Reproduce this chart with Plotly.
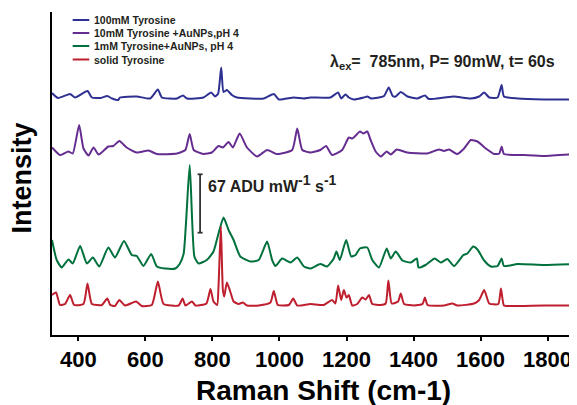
import plotly.graph_objects as go

# ---------------- data (Raman shift in cm-1, intensity in arbitrary offset units) -------------
blue_x = [321, 339, 375, 390, 427, 440, 465, 486, 500, 519, 524, 574, 614, 637, 649, 694, 712, 724, 773, 796,
          808, 817, 826, 833, 843, 858, 873, 953, 983, 998, 1043, 1072, 1092, 1152, 1175, 1184, 1197, 1207, 1222, 1252,
          1262, 1274, 1312, 1326, 1338, 1347, 1362, 1382, 1411, 1434, 1446, 1491, 1521, 1571, 1596, 1611, 1626, 1651, 1663, 1670,
          1711, 1790, 1888]
blue_y = [242, 237, 241, 237.5, 244, 237.5, 237, 239, 236.5, 235, 237.5, 238.5, 236.5, 245.5, 237.5, 236.5, 239.5, 236.5, 237.5, 242.5,
          238.5, 241.5, 267.5, 243, 245, 240, 237.5, 236.5, 241, 235.5, 237.5, 236.5, 237.5, 237.5, 242.5, 236.5, 240.5, 237.5, 235.5, 237.5,
          238.5, 236.5, 239, 247.5, 239, 238.5, 243, 238.5, 236.5, 239.5, 236, 237.5, 238.5, 236.5, 238.5, 242.5, 237.5, 237.5, 250, 238.5,
          236.5, 235.5, 235.5]

purple_x = [321, 345, 370, 383, 402, 415, 430, 445, 460, 489, 504, 522, 544, 574, 609, 634, 694, 719, 732, 744,
            773, 798, 818, 831, 848, 861, 881, 903, 933, 963, 993, 1038, 1053, 1068, 1092, 1122, 1139, 1157, 1187, 1207,
            1217, 1229, 1240, 1250, 1262, 1272, 1287, 1302, 1320, 1332, 1350, 1382, 1441, 1476, 1491, 1506, 1531, 1551, 1571, 1591,
            1616, 1641, 1656, 1663, 1670, 1730, 1790, 1888]
purple_y = [187.5, 180, 183.5, 181.5, 210, 186.5, 179.5, 187.5, 180.5, 188.5, 189, 194, 187.5, 182.5, 184.5, 181, 181.5, 185, 201, 185,
            181, 182.5, 189, 187.5, 193, 187.5, 201.5, 187.5, 178.5, 185, 181, 185, 206.5, 185, 182.5, 185, 189, 180, 185, 197.5,
            196.5, 200, 203.5, 201.5, 203.5, 195, 183.5, 178.5, 183.5, 180.5, 185.5, 182.5, 181.5, 185.5, 184, 185.5, 181, 186.5, 195, 193.5,
            186.5, 181, 181.5, 188.5, 181, 180, 179, 181]

green_x = [321, 335, 350, 370, 383, 405, 425, 443, 462, 489, 509, 536, 559, 574, 594, 617, 634, 659, 689, 702,
           714, 732, 746, 758, 783, 803, 818, 833, 848, 863, 883, 913, 938, 963, 978, 988, 1008, 1033, 1053, 1073,
           1092, 1122, 1142, 1162, 1170, 1180, 1199, 1214, 1227, 1240, 1262, 1277, 1297, 1320, 1332, 1347, 1367, 1392, 1410, 1415,
           1436, 1463, 1481, 1501, 1521, 1549, 1561, 1578, 1591, 1611, 1631, 1651, 1663, 1670, 1711, 1790, 1888]
green_y = [95, 75, 67.5, 75.5, 71.5, 89, 71.5, 77.5, 68.5, 87.5, 77.5, 94, 80, 79, 69, 81, 68.5, 66.5, 66.5, 71,
           81.5, 170, 78.5, 71.5, 75, 83.5, 101.5, 117.5, 105, 95, 78.5, 73.5, 75, 93.5, 75, 69, 76.5, 72.5, 77.5, 68.5,
           66.5, 71, 68.5, 76.5, 83.5, 75, 95, 78.5, 80, 86.5, 87.5, 75, 67.5, 86.5, 76.5, 83.5, 74.5, 72.5, 76.5, 67.5,
           70, 76.5, 72.5, 76, 69, 80, 81.5, 88.5, 85.5, 74.5, 68.5, 69, 76.5, 69, 71, 70, 71]

red_x = [321, 333, 345, 360, 375, 387, 415, 427, 440, 470, 486, 495, 509, 522, 539, 572, 589, 619, 637, 654,
         699, 711, 719, 739, 749, 782, 794, 803, 814, 818, 825, 831, 835, 843, 853, 863, 878, 891, 903, 938,
         973, 983, 995, 1028, 1041, 1053, 1092, 1132, 1157, 1167, 1175, 1184, 1192, 1200, 1207, 1217, 1232, 1247, 1257, 1267,
         1277, 1302, 1317, 1325, 1335, 1354, 1362, 1372, 1402, 1427, 1434, 1442, 1491, 1516, 1531, 1581, 1596, 1611, 1626, 1653,
         1661, 1670, 1690, 1790, 1888]
red_y = [40, 42.5, 30, 31, 40, 30, 31, 51.5, 31, 30, 36.5, 30, 29, 35, 29.5, 33.5, 29, 30, 53.5, 31,
         29.5, 36.5, 29.5, 33.5, 29.5, 31.5, 46, 33.5, 30, 48.5, 108.5, 45, 38.5, 52.5, 43.5, 33.5, 31, 32.5, 29.5, 29.5,
         32.5, 44, 30, 30, 36.5, 29.5, 31, 30, 35, 31.5, 49.5, 35, 45, 37.5, 40, 29.5, 31, 37.5, 35.5, 40,
         31, 30, 31.5, 54.5, 31.5, 33.5, 41.5, 31, 29.5, 31, 37.5, 30, 29.5, 31.5, 29.5, 31.5, 35, 45, 31.5, 31,
         46.5, 29.5, 29, 29.5, 29.5]

series_names = ["100mM Tyrosine", "10mM Tyrosine +AuNPs,pH 4", "1mM Tyrosine+AuNPs, pH 4", "solid Tyrosine"]
series_colors = ["#2E3192", "#662D91", "#00703C", "#BE1E2D"]
x_ticks = [400, 600, 800, 1000, 1200, 1400, 1600, 1800]
scale_bar_x = 763
scale_bar_y = [102.3, 160.7]

FONT = "Liberation Sans, Arial, Helvetica, sans-serif"
TXT = "#231F20"

fig = go.Figure()
for xs, ys, name, col in zip([blue_x, purple_x, green_x, red_x], [blue_y, purple_y, green_y, red_y],
                             series_names, series_colors):
    fig.add_trace(go.Scatter(x=xs, y=ys, mode="lines", name=name,
                             line=dict(color=col, width=2, shape="spline", smoothing=0.5),
                             showlegend=False))

# scale bar
fig.add_shape(type="line", x0=scale_bar_x, x1=scale_bar_x, y0=scale_bar_y[0], y1=scale_bar_y[1],
              line=dict(color="#333333", width=1.8))
for yy in scale_bar_y:
    fig.add_shape(type="line", x0=scale_bar_x - 7.5, x1=scale_bar_x + 7.5, y0=yy, y1=yy,
                  line=dict(color="#333333", width=1.8))

# manual legend
leg_py = [20, 33, 46, 59.5]
for name, col, py in zip(series_names, series_colors, leg_py):
    yp = (335 - py) / 323
    fig.add_shape(type="line", xref="paper", yref="paper", x0=0.0394, x1=0.071, y0=yp, y1=yp,
                  line=dict(color=col, width=2))
    fig.add_annotation(xref="paper", yref="paper", x=0.076, y=yp, xanchor="left", yanchor="middle",
                       text=name, showarrow=False,
                       font=dict(family=FONT, size=10.5, color=TXT, weight="bold"))

fig.add_annotation(xref="paper", yref="paper", x=0.5256, y=0.845, xanchor="left", yanchor="middle",
                   text="λ<sub>ex</sub>=  785nm, P= 90mW, t= 60s", showarrow=False,
                   font=dict(family=FONT, size=16, color=TXT, weight="bold"))
SUP = '<sup><span style="font-size:14px">-1</span></sup>'
fig.add_annotation(xref="paper", yref="paper", x=0.2933, y=0.4675, xanchor="left", yanchor="middle",
                   text="67 ADU mW" + SUP + " s" + SUP, showarrow=False,
                   font=dict(family=FONT, size=16, color=TXT, weight="bold"))
fig.add_annotation(xref="paper", yref="paper", x=-0.0572, y=0.4876, xanchor="center", yanchor="middle",
                   text="Intensity", textangle=-90, showarrow=False,
                   font=dict(family=FONT, size=27, color="#000000", weight="bold"))
fig.add_annotation(xref="paper", yref="paper", x=0.518, y=-0.172, xanchor="center", yanchor="middle",
                   text="Raman Shift (cm-1)", showarrow=False,
                   font=dict(family=FONT, size=28, color="#000000", weight="bold"))

# page body has an 8px default margin, so the figure is 8px smaller and shifted by 8px
fig.update_layout(
    width=569, height=397,
    margin=dict(l=44, r=0, t=4, b=70),
    paper_bgcolor="white", plot_bgcolor="white",
    showlegend=False,
    xaxis=dict(range=[321, 1888], tickvals=x_ticks, ticks="outside", ticklen=4, tickwidth=1.5,
               tickcolor="#000000", showline=True, linewidth=2, linecolor="#000000",
               showgrid=False, zeroline=False,
               tickfont=dict(family=FONT, size=22, color="#000000", weight="bold")),
    yaxis=dict(range=[0, 323], showticklabels=False, ticks="", showline=True, linewidth=2,
               linecolor="#000000", showgrid=False, zeroline=False),
)

fig.write_html("out.html")
